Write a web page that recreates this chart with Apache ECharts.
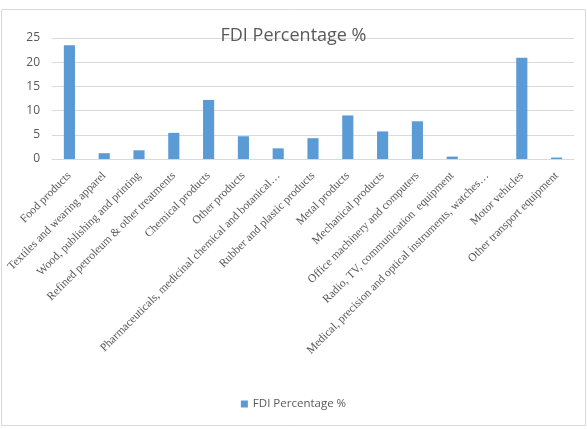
<!DOCTYPE html>
<html><head><meta charset="utf-8">
<script src="https://cdn.jsdelivr.net/npm/echarts@6/dist/echarts.min.js"></script>
<style>html,body{margin:0;padding:0;background:#fff}#c{width:587px;height:429px}</style>
</head><body><div id="c"></div>
<script>
const categories = [
  "Food products",
  "Textiles and wearing apparel",
  "Wood, publishing and printing",
  "Refined petroleum & other treatments",
  "Chemical products",
  "Other products",
  "Pharmaceuticals, medicinal chemical and botanical…",
  "Rubber and plastic products",
  "Metal products",
  "Mechanical products",
  "Office machinery and computers",
  "Radio, TV, communication  equipment",
  "Medical, precision and optical instruments, watches…",
  "Motor vehicles",
  "Other transport equipment"
];
const fdiPercentage = [23.5, 1.2, 1.8, 5.4, 12.2, 4.7, 2.2, 4.3, 9.0, 5.7, 7.8, 0.5, 0, 20.9, 0.3];
const seriesName = "FDI Percentage %";

const chart = echarts.init(document.getElementById('c'), null, {renderer: 'canvas'});
chart.setOption({
  animation: false,
  backgroundColor: '#fff',
  graphic: [{
    type: 'rect', shape: {x: 1.5, y: 9.5, width: 584, height: 416},
    style: {fill: 'none', stroke: '#d9d9d9', lineWidth: 1}, z: -1
  }],
  title: {
    text: seriesName, left: 'center', top: 22,
    textStyle: {fontFamily: 'Open Sans', fontWeight: 'normal', fontSize: 18, color: '#595959'}
  },
  legend: {
    bottom: 14, left: 'center', itemWidth: 7, itemHeight: 7, itemGap: 5,
    icon: 'rect',
    textStyle: {fontFamily: 'Open Sans', fontSize: 11.5, color: '#595959'},
    data: [seriesName]
  },
  grid: {left: 52, right: 13, top: 38, bottom: 270},
  xAxis: {
    type: 'category', data: categories,
    axisLine: {lineStyle: {color: '#d9d9d9'}},
    axisTick: {show: false},
    axisLabel: {
      rotate: 45, interval: 0, margin: 15,
      fontFamily: 'Liberation Serif', fontSize: 11.6, color: '#595959'
    }
  },
  yAxis: {
    type: 'value', min: 0, max: 25, interval: 5,
    axisLine: {show: false}, axisTick: {show: false},
    splitLine: {lineStyle: {color: '#d9d9d9'}},
    axisLabel: {margin: 12, fontFamily: 'Open Sans', fontSize: 12, color: '#595959'}
  },
  series: [{
    name: seriesName, type: 'bar', data: fdiPercentage,
    barWidth: '32%',
    itemStyle: {color: '#5b9bd5'}
  }]
});
</script></body></html>
